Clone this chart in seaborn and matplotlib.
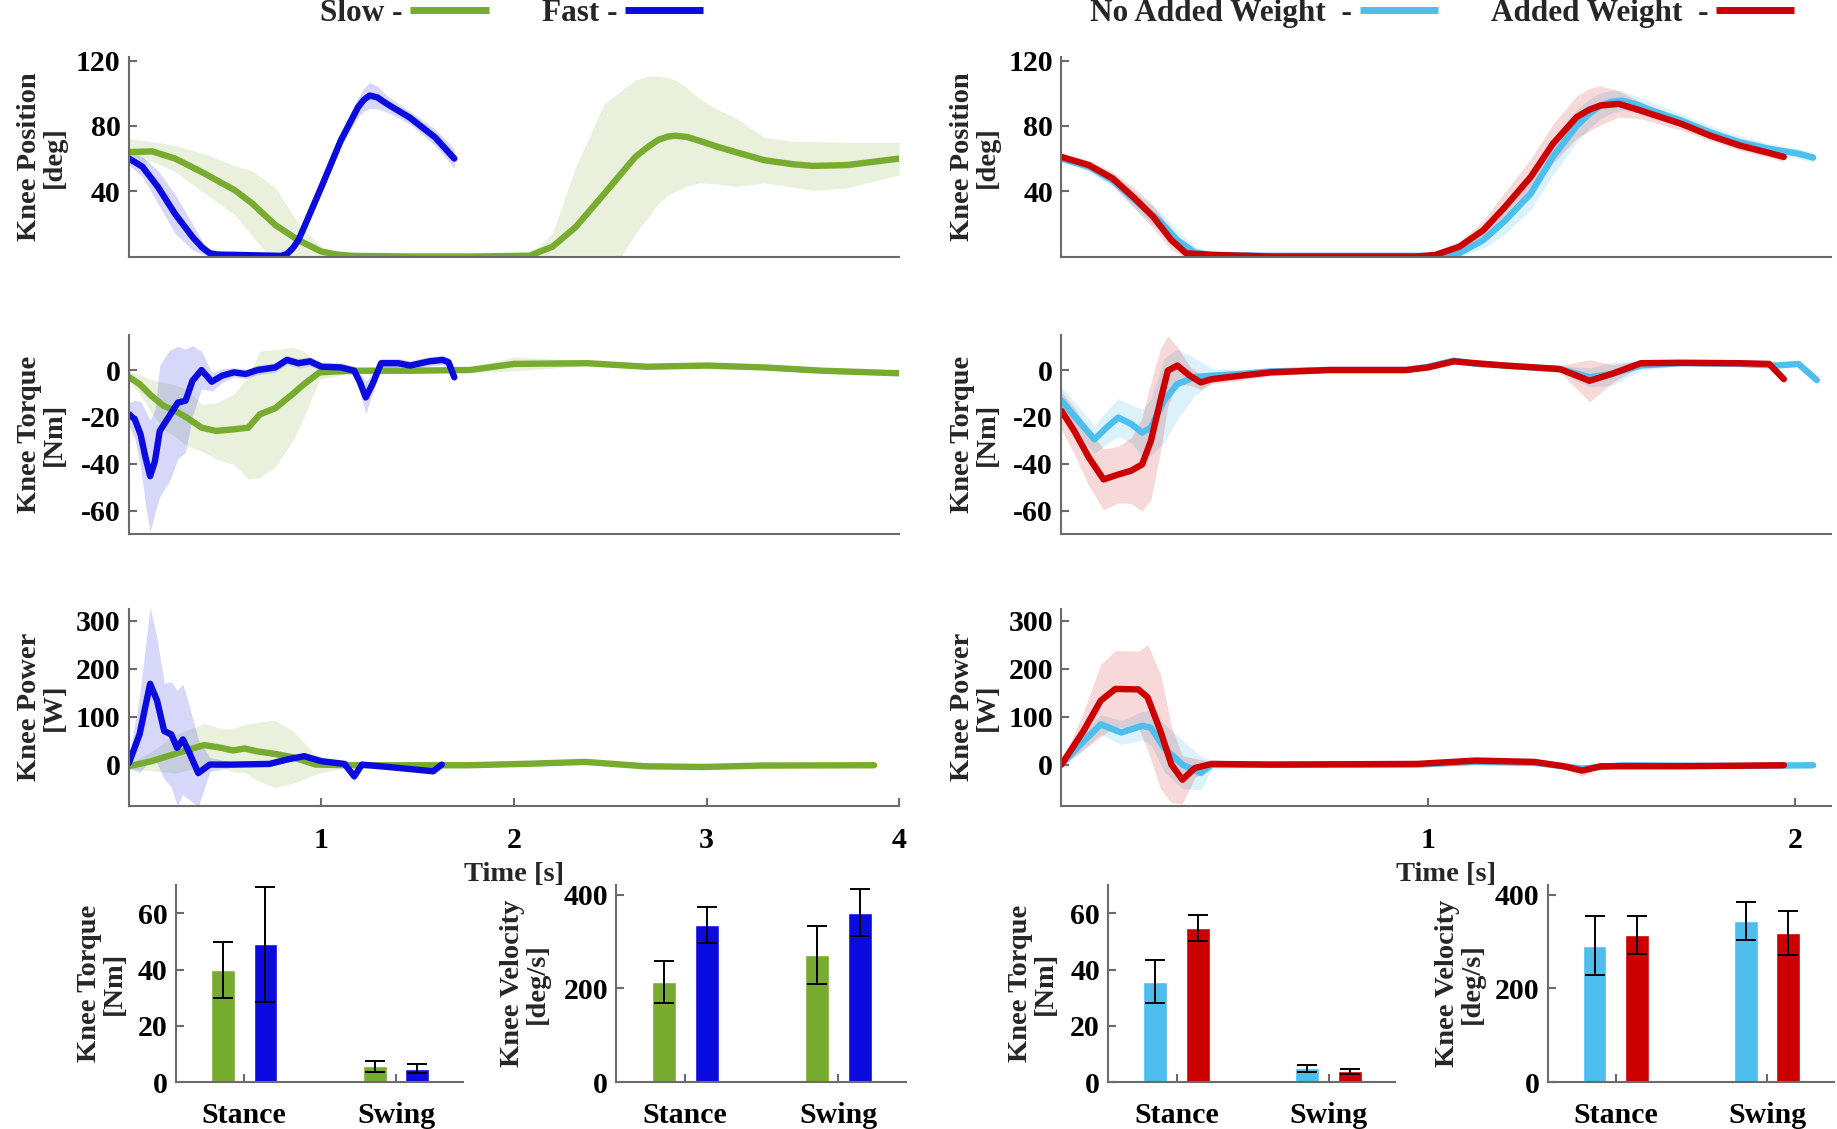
import numpy as np
import pandas as pd
import matplotlib
matplotlib.use('Agg')
import matplotlib.pyplot as plt
from matplotlib.lines import Line2D
import seaborn as sns

# colores estilo MATLAB
c_slow = '#77AC30'
c_fast = '#0B0BE0'
c_nw = '#4DBEEE'
c_aw = '#CC0000'
c_axis = '#6b6b6b'

###################################################################################
########### curvas (media y desviación) ############################################
###################################################################################

# --- izquierda: Slow vs Fast ---
slow_pos_t = [0, 0.12, 0.24, 0.39, 0.55, 0.64, 0.76, 0.88, 1.0, 1.08, 1.16, 1.46, 1.8, 2.08, 2.2,
              2.32, 2.47, 2.63, 2.7, 2.75, 2.8, 2.84, 2.9, 2.96, 3.05, 3.15, 3.3, 3.45, 3.55,
              3.73, 4.0]
slow_pos = [64, 64.4, 60, 51, 40.6, 32.5, 19.3, 10, 3, 1.2, 0.4, 0, 0, 0.5, 6,
            18, 38.6, 61, 67.5, 71.5, 73.5, 74, 73.2, 71, 67.5, 64, 59, 56.5, 55.5,
            56, 60]
slow_pos_sd = [8, 6, 8, 12, 15, 20, 23, 10, 3, 2, 1, 0.5, 0.5, 1, 8,
               37, 55, 47, 43, 39, 36, 34, 30, 26, 23, 21, 14, 14, 15,
               14, 10]

fast_pos_t = [0, 0.07, 0.15, 0.24, 0.33, 0.38, 0.42, 0.46, 0.55, 0.79, 0.82, 0.85, 0.88, 0.91,
              1.0, 1.1, 1.19, 1.22, 1.25, 1.29, 1.34, 1.46, 1.59, 1.69]
fast_pos = [60, 55, 42.7, 26, 12, 5.5, 2, 1.2, 1, 0.4, 1.5, 5, 10, 18,
            42.7, 71, 91.5, 96, 98.6, 97.5, 93.5, 85, 73, 60]
fast_pos_sd = [4, 6, 10, 12, 8, 4, 2, 1, 1, 1, 1, 2, 3, 3,
               3, 4, 6, 7, 8, 7, 5, 4, 5, 6]

slow_tq_t = [0, 0.055, 0.116, 0.18, 0.24, 0.3, 0.377, 0.453, 0.545, 0.62, 0.68, 0.76, 0.85, 0.91,
             0.99, 1.16, 1.46, 1.77, 2.0, 2.38, 2.69, 3.0, 3.3, 3.6, 4.0]
slow_tq = [-3, -6, -11, -15.3, -17.4, -20.3, -24.6, -26, -25.3, -24.6, -18.9, -16.3, -10.3, -6,
           -1, -0.3, -0.3, 0, 2.6, 2.9, 1.4, 1.9, 1.1, -0.3, -1.4]
slow_tq_sd = [2, 4, 7, 10, 11, 12, 10, 12, 15, 22, 27, 25, 20, 14, 3, 1, 1, 1, 3, 1, 1, 1, 1, 1, 1]

fast_tq_t = [0, 0.03, 0.06, 0.086, 0.11, 0.135, 0.16, 0.21, 0.254, 0.294, 0.33, 0.377, 0.43, 0.484,
             0.545, 0.606, 0.668, 0.76, 0.82, 0.88, 0.94, 1.0, 1.1, 1.17, 1.2, 1.23, 1.265, 1.31,
             1.4, 1.46, 1.56, 1.63, 1.66, 1.69]
fast_tq = [-18.9, -21, -27.4, -37.4, -45.3, -38.9, -26, -19.6, -13.9, -13.1, -4.6, 0, -5, -2.4,
           -1, -1.7, 0, 1.1, 4.3, 2.9, 3.7, 1.4, 1.1, -0.3, -5.3, -11.7, -6, 2.9,
           2.9, 1.9, 3.7, 4.3, 3.3, -3.1]
fast_tq_sd = [5, 8, 14, 20, 24, 22, 28, 28, 24, 22, 15, 8, 4, 3, 2, 2, 2, 2, 2, 2, 2, 2, 2, 2,
              4, 7, 4, 2, 2, 2, 2, 2, 2, 2]

slow_pw_t = [0, 0.116, 0.24, 0.39, 0.48, 0.54, 0.6, 0.66, 0.756, 0.85, 0.97, 1.15, 1.76, 2.1,
             2.37, 2.68, 2.98, 3.29, 3.87]
slow_pw = [-3.5, 7, 22.5, 40.8, 35, 29.5, 33.7, 28, 22.5, 15.5, 0, -1.4, -1.4, 2, 5.6, -3.5, -5, -2, -1.4]
slow_pw_sd = [5, 20, 40, 45, 40, 45, 50, 60, 70, 55, 20, 3, 2, 2, 2, 2, 2, 2, 2]

fast_pw_t = [0, 0.055, 0.11, 0.146, 0.183, 0.22, 0.25, 0.28, 0.31, 0.36, 0.42, 0.54, 0.73, 0.82,
             0.91, 1.0, 1.12, 1.17, 1.21, 1.4, 1.58, 1.625]
fast_pw = [3.5, 63, 168.7, 133.5, 70, 63, 35, 52.7, 28, -17.6, 0, 0, 1.4, 10.5, 17.6, 7, 1.4,
           -24.6, 0, -7, -14, 0]
fast_pw_sd = [10, 80, 160, 130, 100, 110, 120, 115, 100, 70, 15, 5, 5, 5, 5, 5, 5, 10, 5, 3, 3, 3]

# --- derecha: No Added Weight vs Added Weight ---
nw_pos_t = [0, 0.075, 0.14, 0.2, 0.27, 0.316, 0.364, 0.41, 0.57, 1.02, 1.085, 1.15, 1.21, 1.28,
            1.34, 1.405, 1.44, 1.47, 1.5, 1.53, 1.57, 1.61, 1.69, 1.77, 1.85, 1.93, 2.01, 2.05]
nw_pos = [60, 55, 46.7, 34.5, 21.3, 10, 2.4, 1, 0.4, 0.4, 2, 10, 22, 38.6,
          61, 80, 87.5, 92.5, 94.8, 95.5, 93, 89.4, 83.3, 76, 70, 66, 63, 60.6]
nw_pos_sd = [2, 3, 4, 5, 6, 6, 4, 1, 0.5, 0.5, 2, 5, 8, 10,
             11, 10, 9, 8, 7, 6, 5, 5, 4, 4, 4, 3, 3, 3]

aw_pos_t = [0, 0.075, 0.14, 0.2, 0.25, 0.3, 0.34, 0.41, 0.57, 0.97, 1.02, 1.085, 1.15, 1.21, 1.28,
            1.34, 1.405, 1.44, 1.47, 1.52, 1.58, 1.69, 1.77, 1.85, 1.93, 1.97]
aw_pos = [61, 56, 47.8, 35.6, 24.4, 10, 2, 1, 0, 0, 1, 6, 16, 30.5, 48.8,
          69, 85.4, 90, 92.5, 93.5, 89.4, 81.3, 74, 68, 63.4, 61]
aw_pos_sd = [2, 3, 4, 6, 7, 6, 3, 1, 0.5, 0.5, 1, 3, 6, 9, 11,
             12, 13, 13, 12, 8, 5, 4, 3, 3, 3, 3]

nw_tq_t = [0, 0.035, 0.09, 0.123, 0.155, 0.19, 0.22, 0.244, 0.28, 0.316, 0.364, 0.41, 0.49, 0.57,
           0.73, 0.94, 1.0, 1.07, 1.13, 1.21, 1.36, 1.44, 1.5, 1.58, 1.69, 1.85, 1.95, 2.01, 2.06]
nw_tq = [-13, -19.6, -29.6, -24.6, -20.3, -23, -26.7, -24.6, -13, -6, -3, -2.4, -1.7, -0.6,
         0, 0, 1.4, 4, 2.6, 1.9, 0.4, -3.1, -1.7, 1.9, 2.9, 2.6, 1.9, 2.6, -4.3]
nw_tq_sd = [6, 6, 6, 7, 8, 8, 10, 12, 18, 15, 8, 3, 2, 1.5, 1, 1, 1, 1, 1, 1, 1.5, 4, 5, 2, 1,
            1, 1, 1, 2]

aw_tq_t = [0, 0.035, 0.075, 0.115, 0.155, 0.19, 0.22, 0.244, 0.27, 0.29, 0.316, 0.35, 0.38, 0.41,
           0.49, 0.57, 0.73, 0.94, 1.0, 1.07, 1.13, 1.21, 1.36, 1.44, 1.5, 1.58, 1.69, 1.85, 1.93, 1.97]
aw_tq = [-17.4, -26, -37.4, -46.7, -44.6, -43, -40.3, -30.3, -13, -0.3, 1.9, -2.4, -5.3, -3.9,
         -2.4, -1, 0, 0, 1.1, 3.7, 2.9, 1.9, 0.4, -4.6, -1.7, 2.9, 3.1, 2.9, 2.6, -3.9]
aw_tq_sd = [8, 10, 12, 13, 12, 14, 20, 25, 22, 15, 8, 4, 3, 2, 2, 1.5, 1, 1, 1, 1, 1, 1, 1.5, 9,
            4, 1, 1, 1, 1, 1]

nw_pw_t = [0, 0.043, 0.107, 0.163, 0.22, 0.244, 0.28, 0.33, 0.38, 0.41, 0.57, 0.97, 1.13, 1.29,
           1.37, 1.42, 1.53, 1.85, 2.05]
nw_pw = [0, 35, 84, 67, 81, 77, 35, 0, -17.6, 0, 0, 0, 5.6, 3.5, -3.5, -8.4, -1.4, -2.8, -1.4]
nw_pw_sd = [2, 15, 20, 25, 30, 35, 50, 50, 35, 10, 3, 2, 3, 3, 3, 8, 3, 2, 2]

aw_pw_t = [0, 0.06, 0.107, 0.147, 0.21, 0.235, 0.27, 0.3, 0.33, 0.364, 0.41, 0.57, 0.97, 1.13,
           1.29, 1.37, 1.42, 1.47, 1.69, 1.97]
aw_pw = [0, 70, 133.5, 158, 157, 140.5, 70, 0, -31.6, -7, 1.4, 0, 1.4, 8.4, 5.6, -3.5, -12.6,
         -3.5, -3.5, -1.4]
aw_pw_sd = [2, 40, 75, 80, 80, 110, 120, 80, 50, 20, 5, 2, 2, 3, 3, 5, 12, 4, 2, 2]

###################################################################################
########### barras (media y desviación) ##########################################
###################################################################################
fases = ['Stance', 'Swing']

slow_bar_tq, slow_bar_tq_sd = [40, 5.6], [10, 2.1]
fast_bar_tq, fast_bar_tq_sd = [49, 4.8], [20.5, 1.5]
slow_bar_vel, slow_bar_vel_sd = [214, 272], [45, 62]
fast_bar_vel, fast_bar_vel_sd = [335, 362], [38, 51]

nw_bar_tq, nw_bar_tq_sd = [35.8, 4.9], [7.5, 1.2]
aw_bar_tq, aw_bar_tq_sd = [54.9, 3.9], [4.7, 0.9]
nw_bar_vel, nw_bar_vel_sd = [291, 344], [63, 41]
aw_bar_vel, aw_bar_vel_sd = [314, 318], [40, 47]


sns.set_theme(style='ticks')
plt.rcParams['font.family'] = ['Liberation Serif', 'DejaVu Serif']
plt.rcParams['font.weight'] = 'bold'
plt.rcParams['axes.labelweight'] = 'bold'
plt.rcParams['axes.unicode_minus'] = False
plt.rcParams['font.size'] = 20

TICK_FS = 21.5
LAB_FS = 20.5


def curva(ax, t, m, s, color, alpha):
    t, m, s = np.asarray(t), np.asarray(m), np.asarray(s)
    ax.fill_between(t, m - s, m + s, color=color, alpha=alpha, lw=0)
    sns.lineplot(x=t, y=m, ax=ax, color=color, linewidth=4.6, sort=False)


def estilo(ax, ylim, yticks, xlim, xticks=None):
    sns.despine(ax=ax)
    for sp in ['left', 'bottom']:
        ax.spines[sp].set_color(c_axis)
        ax.spines[sp].set_linewidth(1.5)
    ax.tick_params(direction='in', length=6, width=1.5, color=c_axis, labelsize=TICK_FS,
                   labelcolor='black', pad=6)
    ax.tick_params(axis='x', pad=15)
    ax.set_ylim(ylim)
    ax.set_yticks(yticks)
    ax.set_xlim(xlim)
    if xticks is None:
        ax.set_xticks([])
    else:
        ax.set_xticks(xticks)
        ax.set_xticklabels([str(v) for v in xticks])


def barras(ax, g1, s1, g2, s2, n1, n2, c1, c2, ylim, yticks, ylab, xlab_x):
    df = pd.DataFrame({'fase': fases * 2, 'grupo': [n1] * 2 + [n2] * 2, 'valor': g1 + g2})
    sns.barplot(data=df, x='fase', y='valor', hue='grupo', palette=[c1, c2], width=0.56,
                gap=0.44, errorbar=None, legend=False, saturation=1, ax=ax)
    for cont, sd in zip(ax.containers, [s1, s2]):
        xs = [b.get_x() + b.get_width() / 2 for b in cont]
        ys = [b.get_height() for b in cont]
        ax.errorbar(xs, ys, yerr=sd, fmt='none', ecolor='black', elinewidth=1.4,
                    capsize=7, capthick=1.4)
    estilo(ax, ylim, yticks, (-0.45, 1.44), xticks=[0, 1])
    ax.set_xticklabels(fases)
    ax.tick_params(axis='x', pad=14)
    ax.set_xlabel('')
    ax.set_ylabel(ylab, fontsize=LAB_FS, linespacing=1.0)
    ax.yaxis.set_label_coords(xlab_x, 0.5)


fig = plt.figure(figsize=(18.37, 11.29), dpi=100)

izq, der, ancho = 0.0702, 0.5778, 0.4192
filas = [(0.7728, 0.1764), (0.527, 0.1764), (0.2863, 0.1743)]

ejes = {}
for lado, x0 in [('L', izq), ('R', der)]:
    for i, (y0, h) in enumerate(filas):
        ejes[(lado, i)] = fig.add_axes([x0, y0, ancho, h])

paneles = [
    ('Knee Position\n[deg]', (0, 122), [40, 80, 120]),
    ('Knee Torque\n[Nm]', (-70, 15), [-60, -40, -20, 0]),
    ('Knee Power\n[W]', (-86, 325), [0, 100, 200, 300]),
]

izq_series = [
    [(slow_pos_t, slow_pos, slow_pos_sd, c_slow, 0.16), (fast_pos_t, fast_pos, fast_pos_sd, c_fast, 0.16)],
    [(slow_tq_t, slow_tq, slow_tq_sd, c_slow, 0.16), (fast_tq_t, fast_tq, fast_tq_sd, c_fast, 0.16)],
    [(slow_pw_t, slow_pw, slow_pw_sd, c_slow, 0.16), (fast_pw_t, fast_pw, fast_pw_sd, c_fast, 0.16)],
]
der_series = [
    [(nw_pos_t, nw_pos, nw_pos_sd, c_nw, 0.2), (aw_pos_t, aw_pos, aw_pos_sd, c_aw, 0.15)],
    [(nw_tq_t, nw_tq, nw_tq_sd, c_nw, 0.2), (aw_tq_t, aw_tq, aw_tq_sd, c_aw, 0.15)],
    [(nw_pw_t, nw_pw, nw_pw_sd, c_nw, 0.2), (aw_pw_t, aw_pw, aw_pw_sd, c_aw, 0.15)],
]

for lado, series, xlim, xt in [('L', izq_series, (0, 4), [1, 2, 3, 4]),
                               ('R', der_series, (0, 2.1), [1, 2])]:
    for i, (ylab, ylim, yt) in enumerate(paneles):
        ax = ejes[(lado, i)]
        for t, m, s, c, a in series[i]:
            curva(ax, t, m, s, c, a)
        estilo(ax, ylim, yt, xlim, xt if i == 2 else None)
        ax.set_ylabel(ylab, fontsize=LAB_FS, linespacing=1.0)
        ax.yaxis.set_label_coords(-0.08, 0.5)
        if i == 2:
            ax.set_xlabel('Time [s]', fontsize=LAB_FS)
            ax.xaxis.set_label_coords(0.5, -0.285)

# barras
ax = fig.add_axes([0.0957, 0.0415, 0.1563, 0.1743])
barras(ax, slow_bar_tq, slow_bar_tq_sd, fast_bar_tq, fast_bar_tq_sd, 'Slow', 'Fast',
       c_slow, c_fast, (0, 70), [0, 20, 40, 60], 'Knee Torque\n[Nm]', -0.17)
ax = fig.add_axes([0.3355, 0.0415, 0.1575, 0.1743])
barras(ax, slow_bar_vel, slow_bar_vel_sd, fast_bar_vel, fast_bar_vel_sd, 'Slow', 'Fast',
       c_slow, c_fast, (0, 420), [0, 200, 400], 'Knee Velocity\n[deg/s]', -0.23)
ax = fig.add_axes([0.6033, 0.0415, 0.1563, 0.1743])
barras(ax, nw_bar_tq, nw_bar_tq_sd, aw_bar_tq, aw_bar_tq_sd, 'No Added Weight', 'Added Weight',
       c_nw, c_aw, (0, 70), [0, 20, 40, 60], 'Knee Torque\n[Nm]', -0.175)
ax = fig.add_axes([0.8425, 0.0415, 0.1556, 0.1743])
barras(ax, nw_bar_vel, nw_bar_vel_sd, aw_bar_vel, aw_bar_vel_sd, 'No Added Weight', 'Added Weight',
       c_nw, c_aw, (0, 420), [0, 200, 400], 'Knee Velocity\n[deg/s]', -0.22)

# leyendas superiores
for etiquetas, colores, xc in [(['Slow -', 'Fast -'], [c_slow, c_fast], 0.2785),
                               (['No Added Weight  -', 'Added Weight  -'], [c_nw, c_aw], 0.785)]:
    handles = [Line2D([], [], color=c, lw=5, solid_capstyle='butt') for c in colores]
    fig.legend(handles, etiquetas, loc='center', bbox_to_anchor=(xc, 0.988), ncol=2,
               frameon=False, markerfirst=False, handlelength=2.5, handletextpad=0.25,
               columnspacing=1.7, fontsize=22.5, borderpad=0)

fig.savefig('out.png', dpi=100)
